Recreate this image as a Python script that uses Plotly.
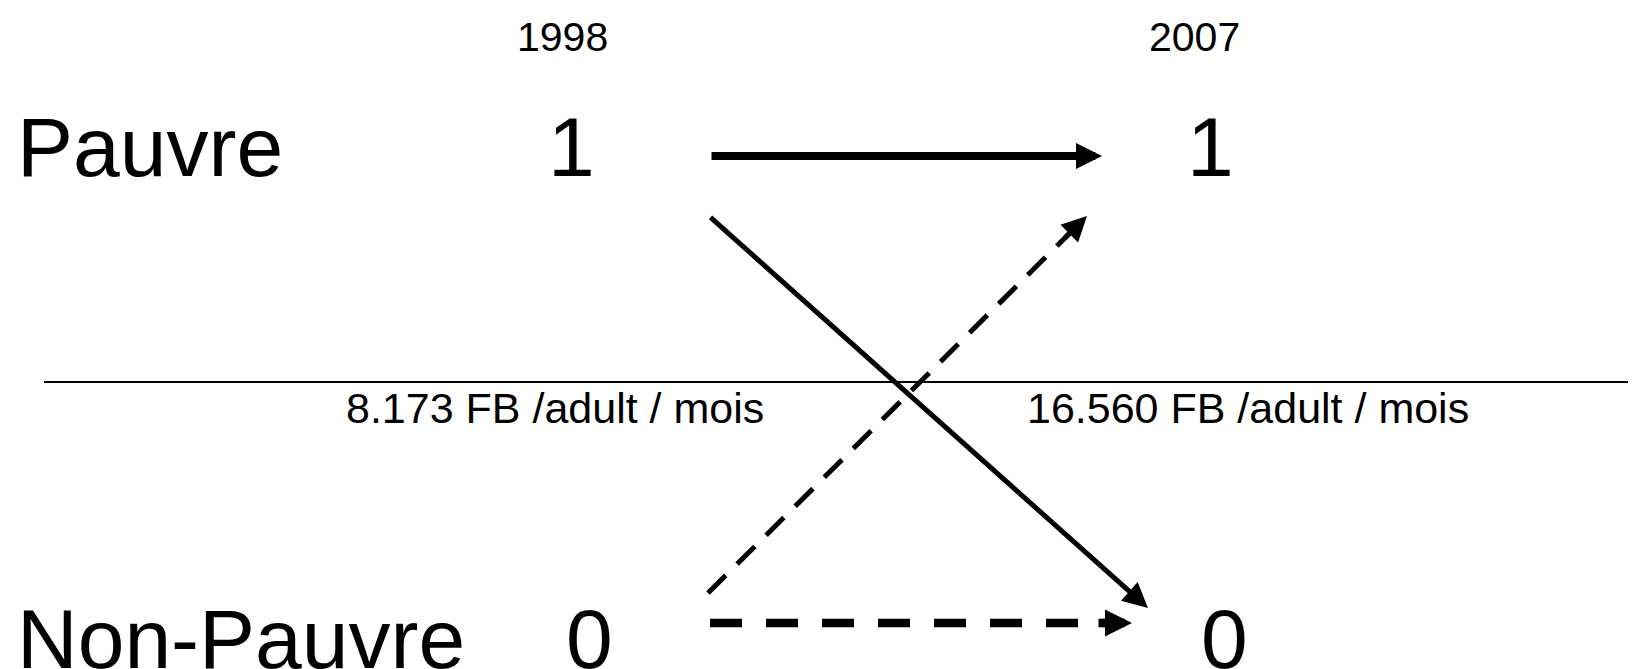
import numpy as np
import plotly.graph_objects as go

# ---- data ----
years = ["1998", "2007"]
states = ["Pauvre", "Non-Pauvre"]
state_codes = ["1", "0"]
thresholds = ["8.173 FB /adult / mois", "16.560 FB /adult / mois"]
trans_from = ["Pauvre", "Pauvre", "Non-Pauvre", "Non-Pauvre"]
trans_to = ["Pauvre", "Non-Pauvre", "Pauvre", "Non-Pauvre"]
trans_kind = ["solid", "solid", "dash", "dash"]

# ---- layout geometry (screen pixels, y downward) ----
W, H = 1636, 669
OFF = 8  # page body margin
FONT = "Liberation Sans, Arial, sans-serif"
year_x = [562, 1194]
year_y = 37
row_label_x = 14.5
row_y = {"Pauvre": 147, "Non-Pauvre": 639}
code_x = {"Pauvre": [571, 1210], "Non-Pauvre": [589.5, 1224.5]}
thr_y = 382
thr_x0 = 44
thr_text_x = [555, 1248]
thr_text_y = 408

# arrow geometry per (from, to): start point, tip point
arrow_geom = {
    ("Pauvre", "Pauvre"): ((710, 156), (1102, 156)),
    ("Pauvre", "Non-Pauvre"): ((709, 216), (1148, 608)),
    ("Non-Pauvre", "Pauvre"): ((708, 593), (1087, 216)),
    ("Non-Pauvre", "Non-Pauvre"): ((710, 623), (1132, 623)),
}
arrow_style = {
    ("Pauvre", "Pauvre"): dict(width=8, head=0.65, dash=None),
    ("Pauvre", "Non-Pauvre"): dict(width=5, head=1.0, dash=None),
    ("Non-Pauvre", "Pauvre"): dict(width=5, head=1.0, dash="25px,16px"),
    ("Non-Pauvre", "Non-Pauvre"): dict(width=8.5, head=0.635, dash="32px,24px"),
}

fig = go.Figure()
annotations = []

for f, t, kind in zip(trans_from, trans_to, trans_kind):
    (x0, y0), (x1, y1) = arrow_geom[(f, t)]
    st = arrow_style[(f, t)]
    p0 = np.array([x0, y0], float)
    p1 = np.array([x1, y1], float)
    d = p1 - p0
    L = np.hypot(*d)
    u = d / L
    scale = st["width"] * st["head"]
    head_len = 5 * scale
    if kind == "dash":
        base = p1 - u * head_len
        fig.add_trace(go.Scatter(x=[p0[0], base[0]], y=[p0[1], base[1]], mode="lines",
                                 line=dict(color="black", width=st["width"], dash=st["dash"]),
                                 hoverinfo="skip", showlegend=False))
        tail = p1 - u * (head_len + 8)
    else:
        tail = p0
    annotations.append(dict(x=p1[0], y=p1[1], ax=tail[0], ay=tail[1],
                            xref="x", yref="y", axref="x", ayref="y", text="",
                            showarrow=True, arrowhead=2, arrowwidth=st["width"],
                            arrowsize=st["head"], arrowcolor="black", standoff=0))

# threshold line
fig.add_shape(type="line", x0=thr_x0, x1=W, y0=thr_y, y1=thr_y, xref="x", yref="y",
              line=dict(color="black", width=2))

for yr, x in zip(years, year_x):
    annotations.append(dict(x=x, y=year_y, text=yr, showarrow=False, xanchor="center",
                            yanchor="middle", font=dict(family=FONT, size=41, color="black")))
for s, c in zip(states, state_codes):
    annotations.append(dict(x=row_label_x, y=row_y[s], text=s, showarrow=False, xanchor="left",
                            yanchor="middle", font=dict(family=FONT, size=84, color="black")))
    for x in code_x[s]:
        annotations.append(dict(x=x, y=row_y[s], text=c, showarrow=False, xanchor="center",
                                yanchor="middle", font=dict(family=FONT, size=84, color="black")))
for txt, x in zip(thresholds, thr_text_x):
    annotations.append(dict(x=x, y=thr_text_y, text=txt, showarrow=False, xanchor="center",
                            yanchor="middle", font=dict(family=FONT, size=43, color="black")))

fig.update_layout(
    width=W - OFF, height=H - OFF, margin=dict(l=0, r=0, t=0, b=0),
    paper_bgcolor="white", plot_bgcolor="white",
    xaxis=dict(range=[OFF, W], visible=False, fixedrange=True),
    yaxis=dict(range=[H, OFF], visible=False, fixedrange=True),
    annotations=annotations, showlegend=False,
)
fig.write_html("out.html")
